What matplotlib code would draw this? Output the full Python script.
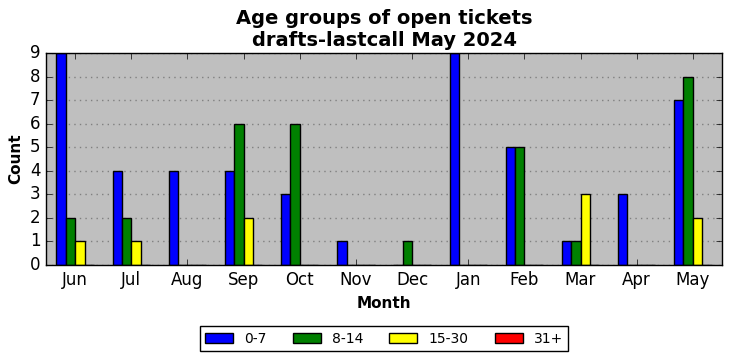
import matplotlib
matplotlib.use("Agg")
import matplotlib.pyplot as plt
import numpy as np

plt.style.use("classic")

months = ["Jun", "Jul", "Aug", "Sep", "Oct", "Nov", "Dec", "Jan", "Feb", "Mar", "Apr", "May"]
series_names = ["0-7", "8-14", "15-30", "31+"]
v_0_7 = [9, 4, 4, 4, 3, 1, 0, 9, 5, 1, 3, 7]
v_8_14 = [2, 2, 0, 6, 6, 0, 1, 0, 5, 1, 0, 8]
v_15_30 = [1, 1, 0, 2, 0, 0, 0, 0, 0, 3, 0, 2]
v_31 = [0, 0, 0, 0, 0, 0, 0, 0, 0, 0, 0, 0]
colors = ["blue", "green", "yellow", "red"]

fig = plt.figure(figsize=(7.32, 3.61), dpi=100)
fig.patch.set_facecolor("white")
ax = fig.add_axes([46/732, 1 - 265/361, (722-46)/732, (265-53)/361])
ax.set_facecolor("#bfbfbf")

x = np.arange(len(months))
w = 1/6
for i, (vals, c, name) in enumerate(zip([v_0_7, v_8_14, v_15_30, v_31], colors, series_names)):
    ax.bar(x + (i - 1.5) * w, vals, width=w, color=c, edgecolor="black", linewidth=1, label=name, align="center")

ax.set_xlim(-0.52, len(months) - 1 + 0.52)
ax.set_ylim(0, 9)
ax.set_yticks(range(0, 10))
ax.set_xticks(x)
ax.set_xticklabels(months)
ax.yaxis.grid(True, color="#808080", linestyle=":", linewidth=1)
ax.xaxis.grid(False)
ax.set_axisbelow(True)
ax.tick_params(labelsize=12)
ax.set_xlabel("Month", fontsize=11, fontweight="bold")
ax.set_ylabel("Count", fontsize=11, fontweight="bold")
ax.set_title("Age groups of open tickets\ndrafts-lastcall May 2024", fontsize=14, fontweight="bold")

leg = ax.legend(loc="upper center", bbox_to_anchor=(0.5, -0.288), ncol=4, fontsize=10,
                fancybox=False, frameon=True, borderaxespad=0, handlelength=2, columnspacing=1.9)
leg.get_frame().set_edgecolor("black")

fig.savefig("out.png", dpi=100)
